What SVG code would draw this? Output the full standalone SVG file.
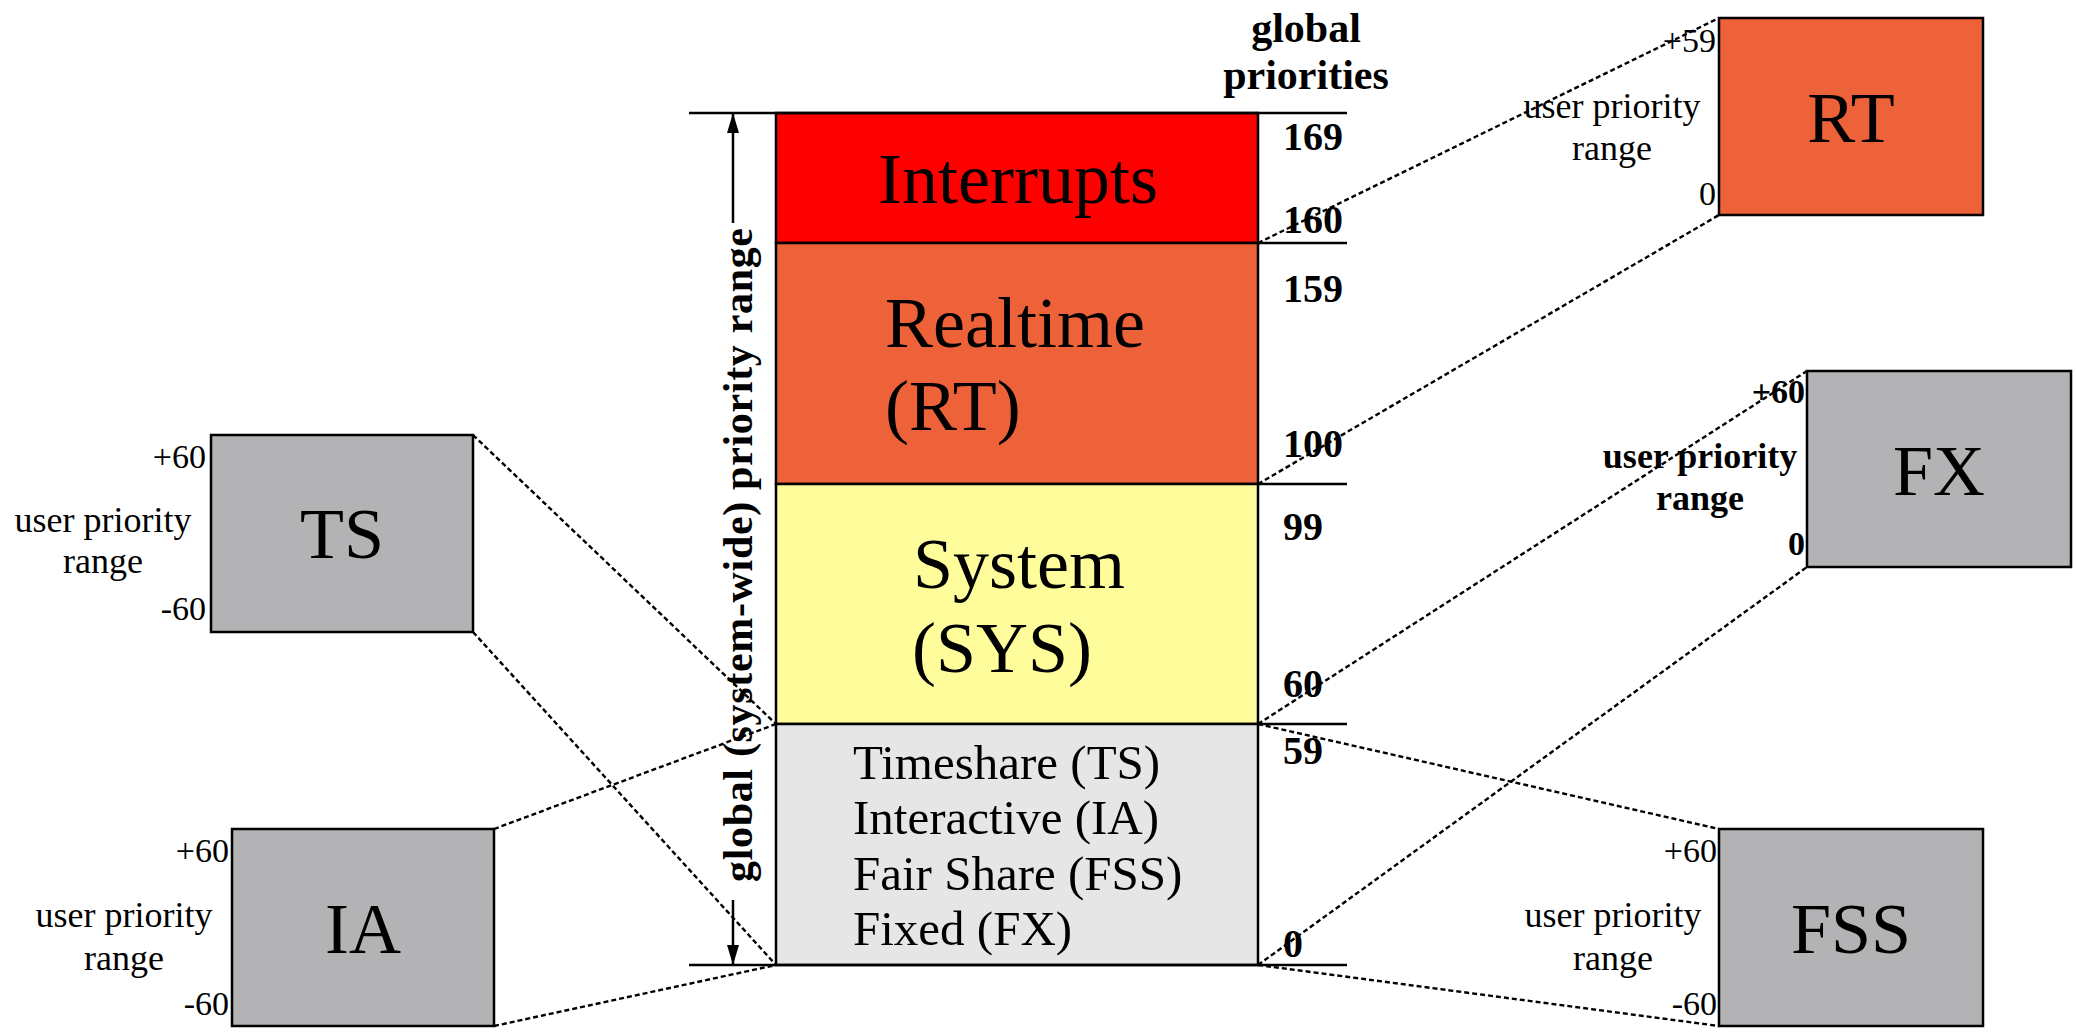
<svg xmlns="http://www.w3.org/2000/svg" width="2076" height="1032" viewBox="0 0 2076 1032">
<defs>
<style>
text { font-family: "Liberation Serif", "Times New Roman", serif; fill: #000; }
.big { font-size: 72px; }
.mid { font-size: 49px; }
.num { font-size: 40px; font-weight: bold; }
.hdr { font-size: 42px; font-weight: bold; text-anchor: middle; }
.lim { font-size: 34px; text-anchor: end; }
.upr { font-size: 36px; text-anchor: middle; }
.cen { text-anchor: middle; }
.bold { font-weight: bold; }
.box { stroke: #000; stroke-width: 2.5; }
.gray { fill: #B3B2B4; }
.orange { fill: #EE623A; }
.tick { stroke: #000; stroke-width: 2.5; fill: none; }
.arrow { stroke: #000; stroke-width: 2.5; fill: none; marker-end: url(#ah); }
.conn { stroke: #000; stroke-width: 2.4; stroke-dasharray: 5 3; fill: none; }
</style>
<marker id="ah" viewBox="0 0 20 12" refX="20" refY="6" markerWidth="20" markerHeight="12" markerUnits="userSpaceOnUse" orient="auto">
<path d="M0,0 L20,6 L0,12 z" fill="#000"/>
</marker>
</defs>
<rect x="0" y="0" width="2076" height="1032" fill="#fff"/>

<g id="interrupts">
<rect class="box" x="776" y="113" width="482" height="130" fill="#FF0000"/>
<text class="big cen" x="1018" y="203">Interrupts</text>
</g>
<g id="realtime">
<rect class="box orange" x="776" y="243" width="482" height="241"/>
<text class="big" x="885" y="347">Realtime</text>
<text class="big" x="885" y="430">(RT)</text>
</g>
<g id="system">
<rect class="box" x="776" y="484" width="482" height="240" fill="#FFFD9B"/>
<text class="big" x="913" y="588">System</text>
<text class="big" x="912" y="672">(SYS)</text>
</g>
<g id="user-classes">
<rect class="box" x="776" y="724" width="482" height="241" fill="#E6E6E6"/>
<text class="mid" x="853" y="779">Timeshare (TS)</text>
<text class="mid" x="853" y="834">Interactive (IA)</text>
<text class="mid" x="853" y="890">Fair Share (FSS)</text>
<text class="mid" x="853" y="945">Fixed (FX)</text>
</g>

<g id="scale">
<line class="tick" x1="689" y1="113" x2="1347" y2="113"/>
<line class="tick" x1="689" y1="965" x2="1347" y2="965"/>
<line class="tick" x1="1258" y1="243" x2="1347" y2="243"/>
<line class="tick" x1="1258" y1="484" x2="1347" y2="484"/>
<line class="tick" x1="1258" y1="724" x2="1347" y2="724"/>
<text class="hdr" x="1306" y="42">global</text>
<text class="hdr" x="1306" y="89">priorities</text>
<text class="num" x="1283" y="150">169</text>
<text class="num" x="1283" y="233">160</text>
<text class="num" x="1283" y="302">159</text>
<text class="num" x="1283" y="457">100</text>
<text class="num" x="1283" y="540">99</text>
<text class="num" x="1283" y="697">60</text>
<text class="num" x="1283" y="764">59</text>
<text class="num" x="1283" y="957">0</text>
<line class="arrow" x1="733" y1="223" x2="733" y2="113"/>
<line class="arrow" x1="733" y1="900" x2="733" y2="965"/>
<text class="bold" font-size="42" text-anchor="middle" textLength="654" lengthAdjust="spacing" transform="translate(752,555) rotate(-90)">global (system-wide) priority range</text>
</g>

<g id="ts">
<rect class="box gray" x="211" y="435" width="262" height="197"/>
<text class="big cen" x="342" y="558">TS</text>
<text class="lim" x="206" y="468">+60</text>
<text class="lim" x="206" y="620">-60</text>
<text class="upr" x="103" y="532">user priority</text>
<text class="upr" x="103" y="573">range</text>
</g>
<g id="ia">
<rect class="box gray" x="232" y="829" width="262" height="197"/>
<text class="big cen" x="363" y="953">IA</text>
<text class="lim" x="229" y="862">+60</text>
<text class="lim" x="229" y="1015">-60</text>
<text class="upr" x="124" y="927">user priority</text>
<text class="upr" x="124" y="970">range</text>
</g>
<g id="rt">
<rect class="box orange" x="1719" y="18" width="264" height="197"/>
<text class="big cen" x="1851" y="142">RT</text>
<text class="lim" x="1716" y="52">+59</text>
<text class="lim" x="1716" y="205">0</text>
<text class="upr" x="1612" y="118">user priority</text>
<text class="upr" x="1612" y="160">range</text>
</g>
<g id="fx">
<rect class="box gray" x="1807" y="371" width="264" height="196"/>
<text class="big cen" x="1939" y="495">FX</text>
<text class="lim bold" x="1805" y="403">+60</text>
<text class="lim bold" x="1805" y="555">0</text>
<text class="upr bold" font-size="33" x="1700" y="468">user priority</text>
<text class="upr bold" font-size="33" x="1700" y="510">range</text>
</g>
<g id="fss">
<rect class="box gray" x="1719" y="829" width="264" height="197"/>
<text class="big cen" x="1851" y="953">FSS</text>
<text class="lim" x="1717" y="862">+60</text>
<text class="lim" x="1717" y="1015">-60</text>
<text class="upr" x="1613" y="927">user priority</text>
<text class="upr" x="1613" y="970">range</text>
</g>

<g id="connectors">
<line class="conn" x1="1258" y1="243" x2="1719" y2="18"/>
<line class="conn" x1="1258" y1="484" x2="1719" y2="215"/>
<line class="conn" x1="1258" y1="724" x2="1807" y2="371"/>
<line class="conn" x1="1258" y1="965" x2="1807" y2="567"/>
<line class="conn" x1="1258" y1="724" x2="1719" y2="829"/>
<line class="conn" x1="1258" y1="965" x2="1719" y2="1026"/>
<line class="conn" x1="473" y1="435" x2="776" y2="724"/>
<line class="conn" x1="473" y1="632" x2="776" y2="965"/>
<line class="conn" x1="494" y1="829" x2="776" y2="724"/>
<line class="conn" x1="494" y1="1026" x2="776" y2="965"/>
</g>
</svg>
